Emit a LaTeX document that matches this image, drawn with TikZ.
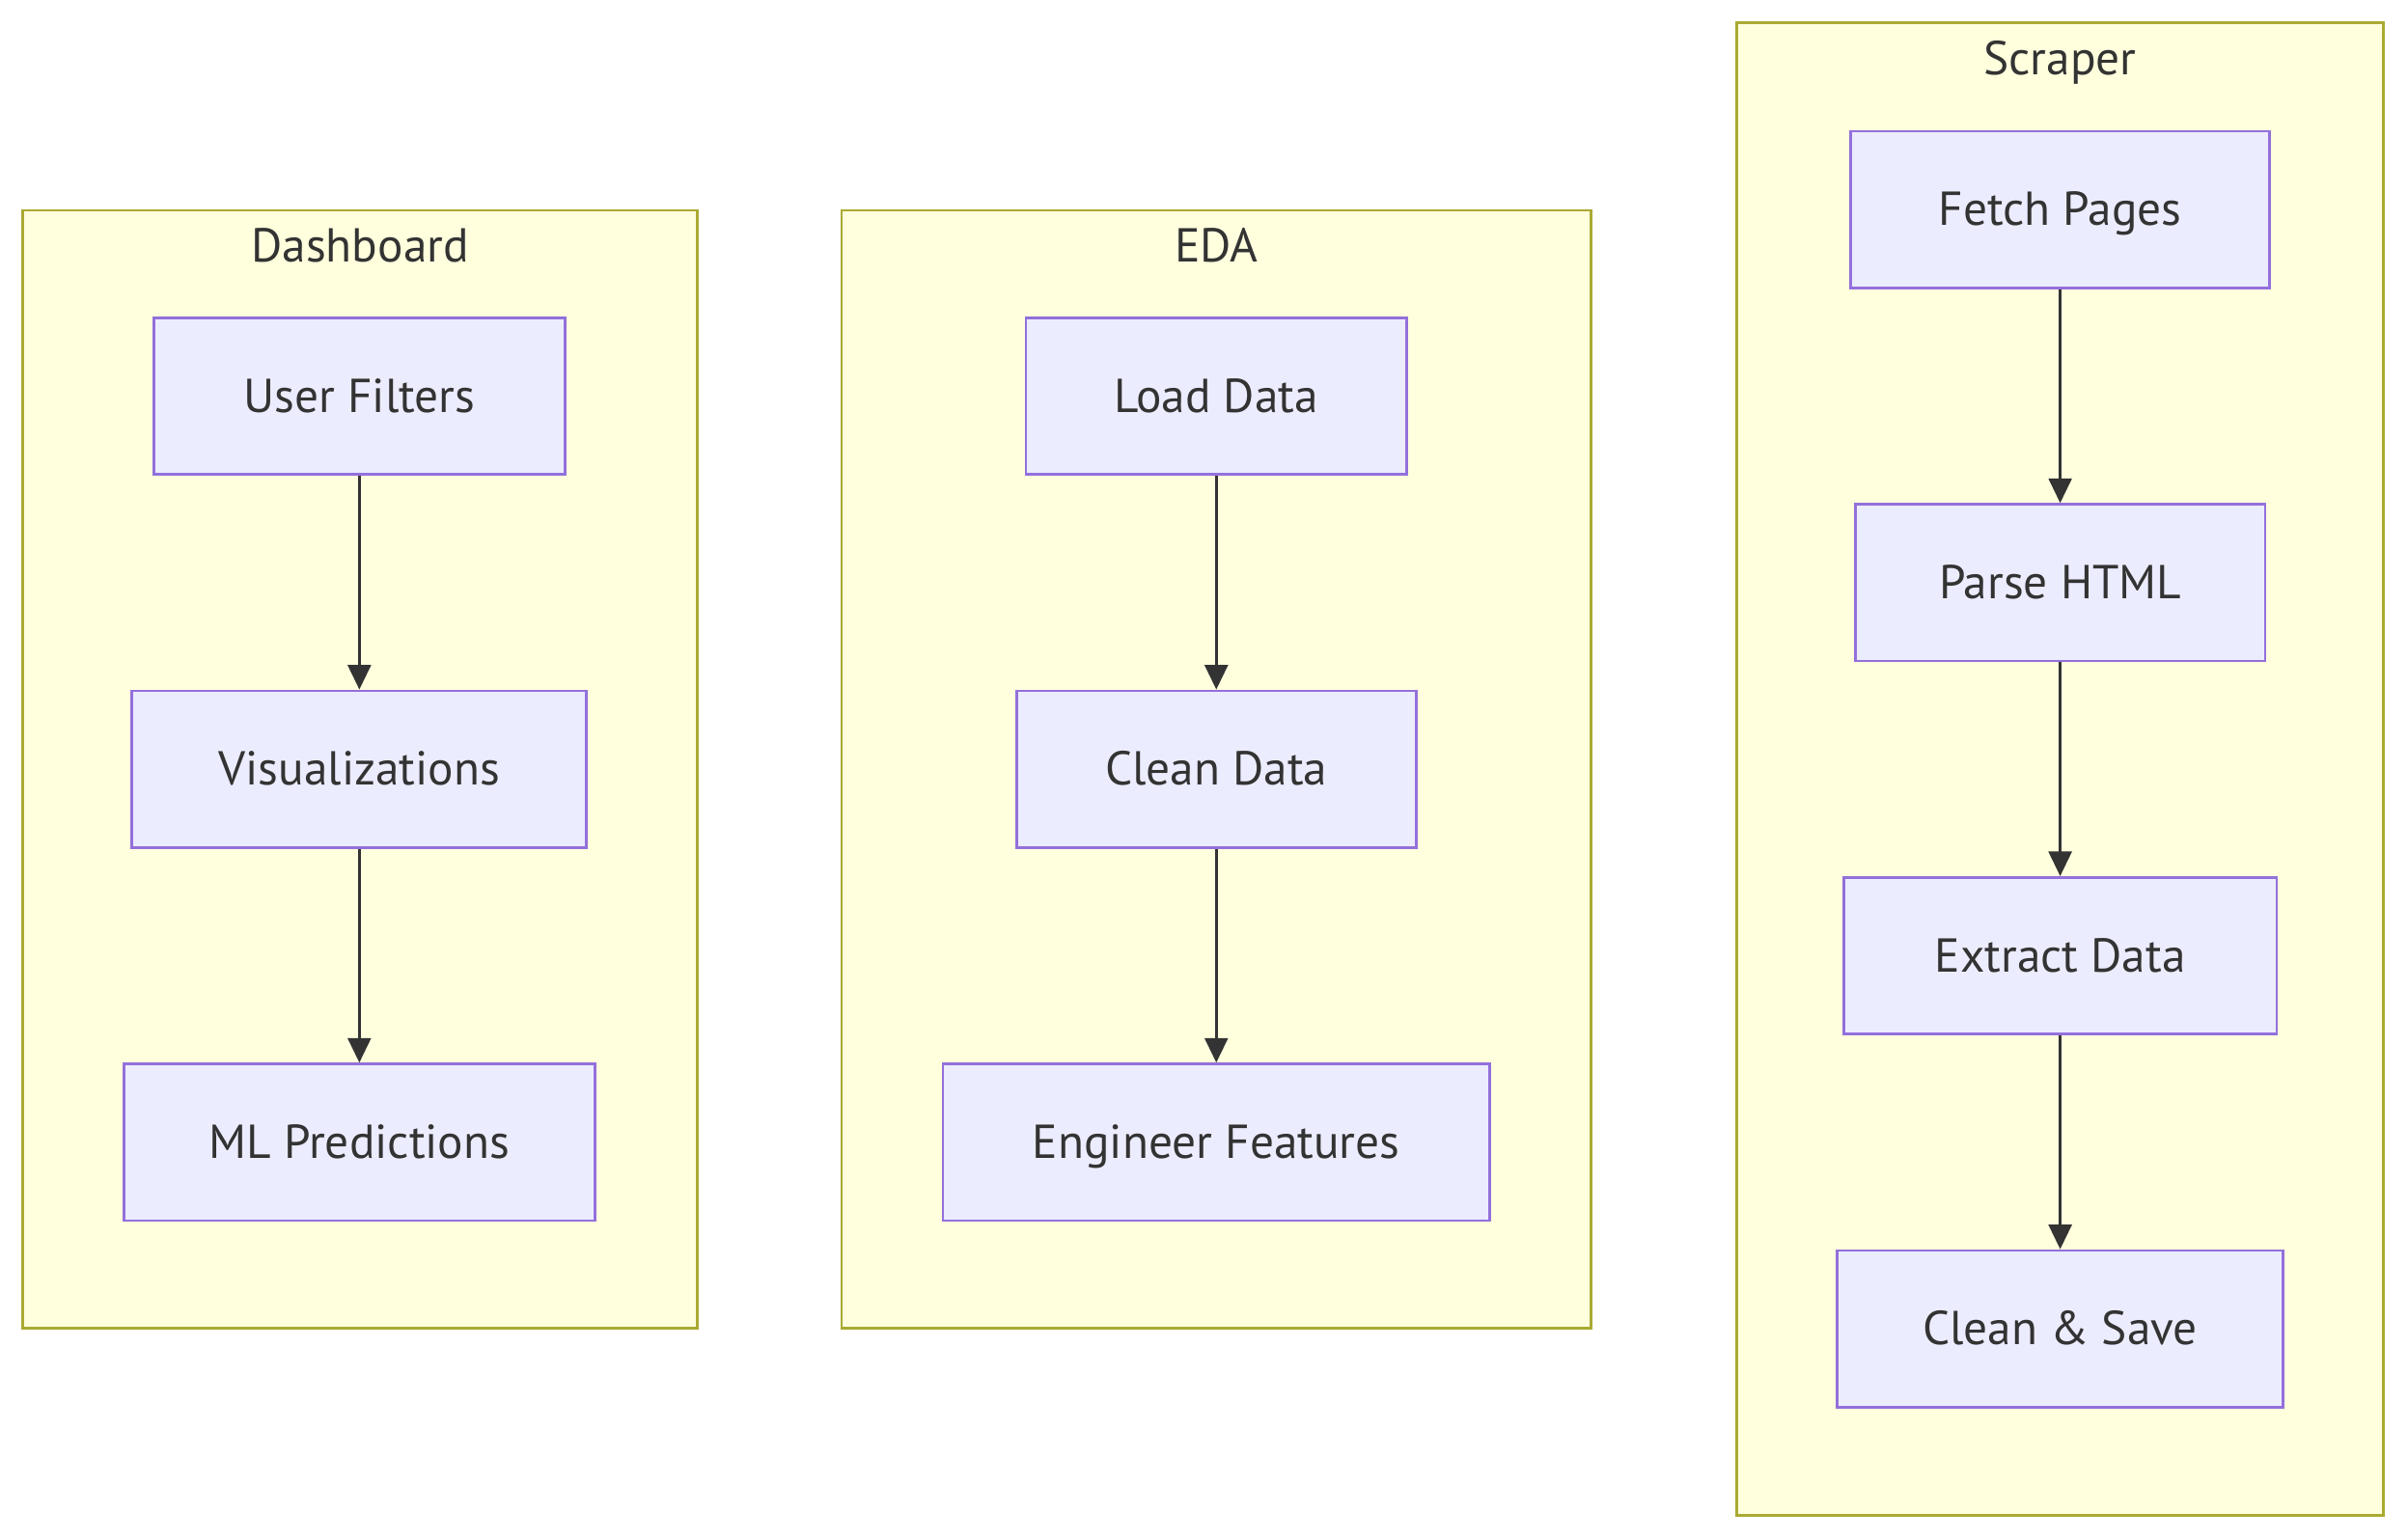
\documentclass[tikz,border=0pt]{standalone}
\usepackage{fontspec}
\setmainfont{PT Sans}
\usetikzlibrary{arrows.meta}
\definecolor{clfill}{HTML}{FFFFDE}
\definecolor{cldraw}{HTML}{AAAA33}
\definecolor{ndfill}{HTML}{ECECFF}
\definecolor{nddraw}{HTML}{9370DB}
\definecolor{txt}{HTML}{333333}
\tikzset{
  cluster/.style={draw=cldraw, fill=clfill, line width=1.8pt},
  cltitle/.style={text=txt, font=\fontsize{31}{36}\selectfont, inner sep=0pt,
    text height=28pt, text depth=7pt},
  proc/.style={draw=nddraw, fill=ndfill, line width=1.8pt, text=txt,
    font=\fontsize{31}{36}\selectfont, inner sep=0pt, minimum height=102pt,
    text height=28pt, text depth=7pt},
  flow/.style={draw=txt, line width=1.8pt, -{Triangle[length=16pt,width=15pt]}}
}
\begin{document}
\begin{tikzpicture}[x=1pt,y=-1pt]
\useasboundingbox (0,0) rectangle (1568,1003);
% clusters
\draw[cluster] (15,137) rectangle (454,865);
\draw[cluster] (548,137) rectangle (1036,865);
\draw[cluster] (1131,15) rectangle (1552,987);
\node[cltitle] (tdash) at (234.5,160) {Dashboard};
\node[cltitle] (teda) at (792,160) {EDA};
\node[cltitle] (tscr) at (1341.5,38) {Scraper};
% Dashboard
\node[proc, minimum width=268pt] (uf) at (234,258) {User Filters};
\node[proc, minimum width=296pt] (vis) at (234,501) {Visualizations};
\node[proc, minimum width=307pt] (ml) at (234,744) {ML Predictions};
% EDA
\node[proc, minimum width=248pt] (ld) at (792,258) {Load Data};
\node[proc, minimum width=260pt] (cd) at (792,501) {Clean Data};
\node[proc, minimum width=356pt] (ef) at (792,744) {Engineer Features};
% Scraper
\node[proc, minimum width=273pt] (fp) at (1341.5,136.5) {Fetch Pages};
\node[proc, minimum width=267pt] (ph) at (1341.5,379.5) {Parse HTML};
\node[proc, minimum width=282pt] (ed) at (1341.5,622.5) {Extract Data};
\node[proc, minimum width=290pt] (cs) at (1341.5,865.5) {Clean \& Save};
% connectors
\draw[flow] (uf) -- (vis);
\draw[flow] (vis) -- (ml);
\draw[flow] (ld) -- (cd);
\draw[flow] (cd) -- (ef);
\draw[flow] (fp) -- (ph);
\draw[flow] (ph) -- (ed);
\draw[flow] (ed) -- (cs);
\end{tikzpicture}
\end{document}
